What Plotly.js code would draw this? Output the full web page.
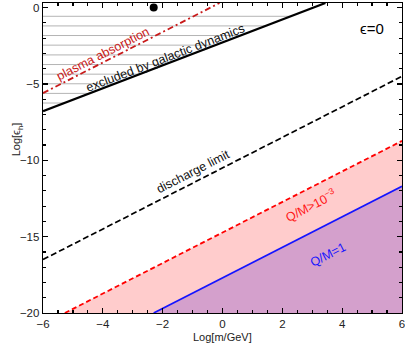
<!DOCTYPE html>
<html>
<head>
<meta charset="utf-8">
<script src="https://cdn.plot.ly/plotly-3.0.1.min.js"></script>
<style>
  body { margin: 0; background: #fff; }
  #plot { width: 405px; height: 352px; }
</style>
</head>
<body>
<div id="plot"></div>
<script>
// line end points (Log[m/GeV], Log[eps_h])
const plasmaX = [-6, -0.1];
const plasmaY = [-5.6, 0.3];
const galX = [-6, 3.44];
const galY = [-6.78, 0.3];
const dischargeX = [-6, 6];
const dischargeY = [-16.5, -4.5];
const qm3X = [-5.27, 6];
const qm3Y = [-20, -8.73];
const qm1X = [-2.3, 6];
const qm1Y = [-20, -11.7];
// hatch levels in the excluded region
const hatchY = [-0.57, -1.2, -1.83, -2.46, -3.1, -3.73, -4.36, -4.99, -5.62, -6.25];
// the dot
const dotX = [-2.3];
const dotY = [0];

const yMin = -20, yMax = 0.3, xMin = -6, xMax = 6;

// x where the galactic line reaches a given y
function galAt(y) {
  const t = (y - galY[0]) / (galY[1] - galY[0]);
  return galX[0] + t * (galX[1] - galX[0]);
}

const hx = [], hy = [];
hatchY.forEach(y => {
  hx.push(xMin, galAt(y), null);
  hy.push(y, y, null);
});

const traces = [
  {
    x: [...qm3X, xMax], y: [...qm3Y, yMin],
    fill: 'toself', fillcolor: 'rgb(255,204,204)',
    mode: 'lines', line: {width: 0}, hoverinfo: 'skip'
  },
  {
    x: [...qm1X, xMax], y: [...qm1Y, yMin],
    fill: 'toself', fillcolor: 'rgb(212,160,204)',
    mode: 'lines', line: {width: 0}, hoverinfo: 'skip'
  },
  {
    x: hx, y: hy, mode: 'lines',
    line: {color: 'rgb(180,180,180)', width: 1}
  },
  {
    x: plasmaX, y: plasmaY, mode: 'lines',
    line: {color: 'rgb(200,25,25)', width: 1.8, dash: '6px,3px,2px,3px'}
  },
  {
    x: galX, y: galY, mode: 'lines',
    line: {color: 'black', width: 2.2}
  },
  {
    x: dischargeX, y: dischargeY, mode: 'lines',
    line: {color: 'black', width: 1.7, dash: '6px,3px'}
  },
  {
    x: qm3X, y: qm3Y, mode: 'lines',
    line: {color: 'rgb(255,0,0)', width: 1.8, dash: '5px,3px'}
  },
  {
    x: qm1X, y: qm1Y, mode: 'lines',
    line: {color: 'rgb(20,20,255)', width: 1.7}
  },
  {
    x: dotX, y: dotY, mode: 'markers',
    marker: {color: 'black', size: 8}, cliponaxis: false
  }
];

const font = 'Liberation Sans, Arial, sans-serif';

const axisBase = {
  showgrid: false, zeroline: false,
  showline: true, linecolor: 'black', linewidth: 1.3,
  mirror: 'allticks', ticks: 'inside', ticklen: 5, tickwidth: 1.2,
  tickcolor: 'black', ticklabeloverflow: 'allow',
  tickfont: {family: font, size: 11.5, color: '#222'}
};

const layout = {
  width: 405, height: 352,
  margin: {l: 43, r: 3, t: 3, b: 39},
  paper_bgcolor: 'white', plot_bgcolor: 'white',
  showlegend: false,
  font: {family: font},
  xaxis: Object.assign({}, axisBase, {
    range: [xMin, xMax], dtick: 2, tick0: 0,
    minor: {dtick: 0.5, ticks: 'inside', ticklen: 3, tickcolor: 'black'}
  }),
  yaxis: Object.assign({}, axisBase, {
    range: [yMin, yMax], dtick: 5, tick0: 0,
    minor: {dtick: 1, ticks: 'inside', ticklen: 3, tickcolor: 'black'}
  }),
  annotations: [
    {x: -4.0, y: -3.05, text: 'plasma absorption', showarrow: false, textangle: -27,
     font: {family: font, size: 12.5, color: 'rgb(200,25,25)'}},
    {x: -1.9, y: -3.31, text: 'excluded by galactic dynamics', showarrow: false, textangle: -21,
     font: {family: font, size: 12.5, color: '#111'}},
    {x: 5.0, y: -1.35, text: '\u03f5=0', showarrow: false,
     font: {family: font, size: 15, color: 'black'}},
    {x: -1.0, y: -10.76, text: 'discharge limit', showarrow: false, textangle: -27,
     font: {family: font, size: 12.5, color: '#111'}},
    {x: 2.95, y: -12.92, text: 'Q/M>10<sup>\u22123</sup>', showarrow: false, textangle: -27,
     font: {family: font, size: 12.5, color: 'rgb(255,20,20)'}},
    {x: 3.52, y: -16.19, text: 'Q/M=1', showarrow: false, textangle: -27,
     font: {family: font, size: 12.5, color: 'rgb(20,20,255)'}},
    {xref: 'paper', yref: 'paper', x: 0.5, y: -0.103, text: 'Log[m/GeV]', showarrow: false,
     font: {family: font, size: 11, color: '#222'}},
    {xref: 'paper', yref: 'paper', x: -0.095, y: 0.56, text: 'Log[\u03f5<sub>h</sub>]', showarrow: false,
     textangle: -90, font: {family: font, size: 11, color: '#222'}}
  ]
};

Plotly.newPlot('plot', traces, layout, {displayModeBar: false, staticPlot: true});
</script>
</body>
</html>
